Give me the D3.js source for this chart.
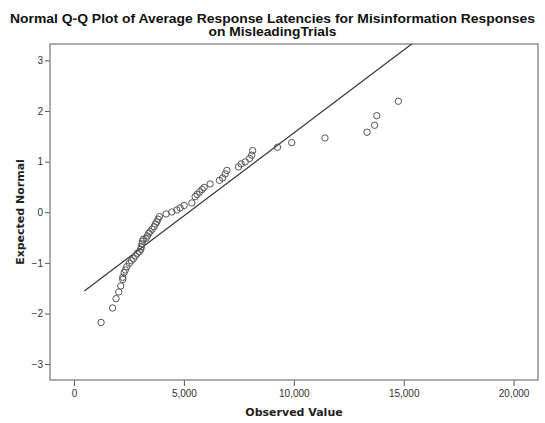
<!DOCTYPE html>
<html>
<head>
<meta charset="utf-8">
<script src="https://cdn.jsdelivr.net/npm/d3@7"></script>
<style>
  body { margin: 0; background: #fff; }
  svg { display: block; }
</style>
</head>
<body>
<div id="chart"></div>
<script>
// Chart size and plot frame
const WIDTH = 545;
const HEIGHT = 423;
const MARGIN = { left: 50, top: 44, right: 7, bottom: 43 };

// Title lines
const titleLines = [
  "Normal Q-Q Plot of Average Response Latencies for Misinformation Responses",
  "on MisleadingTrials"
];
// rendered width of each title line in the reference
const TITLE_WIDTHS = [525, 128];

const observed = [
  1230, 1753, 1913, 2036, 2127, 2218, 2218, 2277, 2336, 2400,
  2518, 2609, 2701, 2792, 2883, 2974, 3037, 3065, 3097, 3110,
  3156, 3279, 3338, 3402, 3461, 3552, 3643, 3702, 3766, 3825,
  3885, 4190, 4449, 4677, 4827, 5009, 5360, 5510, 5601, 5715,
  5829, 5920, 6193, 6617, 6763, 6877, 6954, 7482, 7605, 7787,
  7992, 8083, 8129, 9258, 9905, 11417, 13330, 13676, 13776, 14755
];
const expected = [
  -2.178, -1.891, -1.708, -1.575, -1.457, -1.328, -1.285, -1.194, -1.140, -1.075,
  -1.008, -0.957, -0.917, -0.864, -0.810, -0.779, -0.731, -0.680, -0.626, -0.573,
  -0.534, -0.514, -0.468, -0.415, -0.383, -0.336, -0.285, -0.231, -0.192, -0.138,
  -0.087, -0.034, 0.006, 0.045, 0.085, 0.134, 0.184, 0.308, 0.352, 0.401,
  0.451, 0.490, 0.559, 0.632, 0.678, 0.757, 0.826, 0.895, 0.955, 0.994,
  1.063, 1.128, 1.217, 1.285, 1.375, 1.468, 1.581, 1.719, 1.909, 2.194
];

// Reference line: mean and sd of the fitted normal
const lineMean = 5214;
const lineSd = 3052;
const lineStart = 469;
const lineEnd = 17000;

// Tick values
const xTicks = [0, 5000, 10000, 15000, 20000];
const yTicks = [-3, -2, -1, 0, 1, 2, 3];

const data = observed.map((v, i) => ({ x: v, y: expected[i] }));

const innerW = WIDTH - MARGIN.left - MARGIN.right;
const innerH = HEIGHT - MARGIN.top - MARGIN.bottom;

const svg = d3.select('#chart')
  .append('svg')
  .attr('width', WIDTH)
  .attr('height', HEIGHT);

const x = d3.scaleLinear()
  .domain([-1093, 21110])
  .range([MARGIN.left, MARGIN.left + innerW]);

const y = d3.scaleLinear()
  .domain([-3.315, 3.325])
  .range([MARGIN.top + innerH, MARGIN.top]);

// title
svg.append('g')
  .selectAll('text')
  .data(titleLines)
  .enter()
  .append('text')
  .attr('x', WIDTH / 2)
  .attr('y', (d, i) => 23 + i * 13.3)
  .attr('text-anchor', 'middle')
  .attr('textLength', (d, i) => TITLE_WIDTHS[i])
  .attr('lengthAdjust', 'spacingAndGlyphs')
  .attr('font-family', 'Liberation Sans, Arial, sans-serif')
  .attr('font-weight', 'bold')
  .attr('font-size', '12.4px')
  .attr('fill', '#111')
  .text(d => d);

// clip for the line
svg.append('clipPath')
  .attr('id', 'plot-clip')
  .append('rect')
  .attr('x', MARGIN.left)
  .attr('y', MARGIN.top)
  .attr('width', innerW)
  .attr('height', innerH);

// x axis
const xAxis = svg.append('g')
  .attr('transform', `translate(0, ${MARGIN.top + innerH})`)
  .call(d3.axisBottom(x).tickValues(xTicks).tickSize(6).tickPadding(4)
    .tickFormat(d3.format(',')));
xAxis.select('.domain').remove();
xAxis.selectAll('line').attr('stroke', '#555');
xAxis.selectAll('text')
  .attr('font-family', 'Liberation Sans, Arial, sans-serif')
  .attr('font-size', '10px')
  .attr('fill', '#333');

// y axis
const yAxis = svg.append('g')
  .attr('transform', `translate(${MARGIN.left}, 0)`)
  .call(d3.axisLeft(y).tickValues(yTicks).tickSize(5).tickPadding(2)
    .tickFormat(d3.format('d')));
yAxis.select('.domain').remove();
yAxis.selectAll('line').attr('stroke', '#555');
yAxis.selectAll('text')
  .attr('font-family', 'Liberation Sans, Arial, sans-serif')
  .attr('font-size', '10px')
  .attr('fill', '#333');

// frame
svg.append('rect')
  .attr('x', MARGIN.left)
  .attr('y', MARGIN.top)
  .attr('width', innerW)
  .attr('height', innerH)
  .attr('fill', 'none')
  .attr('stroke', '#808080')
  .attr('stroke-width', 1.3);

// reference line
const lineGenerator = d3.line()
  .x(d => x(d))
  .y(d => y((d - lineMean) / lineSd));

svg.append('path')
  .datum([lineStart, lineEnd])
  .attr('d', lineGenerator)
  .attr('clip-path', 'url(#plot-clip)')
  .attr('fill', 'none')
  .attr('stroke', '#333')
  .attr('stroke-width', 1.2);

// points
svg.append('g')
  .selectAll('circle')
  .data(data)
  .enter()
  .append('circle')
  .attr('cx', d => x(d.x))
  .attr('cy', d => y(d.y))
  .attr('r', 3.2)
  .attr('fill', 'none')
  .attr('stroke', '#555')
  .attr('stroke-width', 1);

// axis titles
svg.append('text')
  .attr('x', MARGIN.left + innerW / 2)
  .attr('y', 416)
  .attr('text-anchor', 'middle')
  .attr('font-family', 'DejaVu Sans, Verdana, sans-serif')
  .attr('font-weight', 'bold')
  .attr('font-size', '11px')
  .attr('fill', '#222')
  .text('Observed Value');

svg.append('text')
  .attr('transform', `translate(24, ${MARGIN.top + innerH / 2}) rotate(-90)`)
  .attr('text-anchor', 'middle')
  .attr('font-family', 'DejaVu Sans, Verdana, sans-serif')
  .attr('font-weight', 'bold')
  .attr('font-size', '11px')
  .attr('fill', '#222')
  .text('Expected Normal');
</script>
</body>
</html>
